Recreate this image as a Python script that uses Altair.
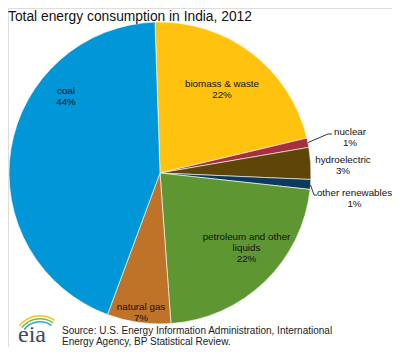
import math
import altair as alt
import pandas as pd

# ---- data -------------------------------------------------------------
categories = ["biomass & waste", "nuclear", "hydroelectric", "other renewables",
              "petroleum and other liquids", "natural gas", "coal"]
shares = [21.8, 1.0, 3.4, 1.05, 22.1, 6.8, 43.8]
label_lines = [["biomass & waste"], ["nuclear"], ["hydroelectric"], ["other renewables"],
               ["petroleum and other", "liquids"], ["natural gas"], ["coal"]]
colors = ["#FFC20E", "#A6303F", "#5E4608", "#0B3A5C", "#5E9732", "#BE7328", "#0096D7"]

title_text = "Total energy consumption in  India, 2012"
source_lines = ["Source: U.S. Energy Information  Administration, International",
                "Energy Agency, BP Statistical Review."]
logo_text = "eia"

# ---- tables -----------------------------------------------------------
df = pd.DataFrame({"category": categories, "share": shares, "idx": list(range(len(categories)))})
labels_df = pd.DataFrame({
    "category": categories,
    "label": ["\n".join(lines + [f"{round(s)}%"]) for lines, s in zip(label_lines, shares)],
})
one = pd.DataFrame({"_": [0]})

W, H = 384, 339
CX, CY, R = 152, 165, 151
start = math.radians(-1.9)

pie = alt.Chart(df).mark_arc(radius=R, x=CX, y=CY, stroke="#ffffff", strokeWidth=0.6).encode(
    theta=alt.Theta("share:Q", stack=True, scale=alt.Scale(range=[start, start + 2 * math.pi])),
    color=alt.Color("category:N", scale=alt.Scale(domain=categories, range=colors), legend=None),
    order=alt.Order("idx:Q", sort="ascending"),
)

label_pos = {
    "biomass & waste": (214, 79),
    "nuclear": (342, 127),
    "hydroelectric": (335, 155),
    "other renewables": (346.5, 188),
    "petroleum and other liquids": (238.5, 232),
    "natural gas": (133, 302),
    "coal": (58, 86),
}
label_layers = []
for cat in categories:
    lx, ly = label_pos[cat]
    label_layers.append(
        alt.Chart(labels_df).transform_filter(alt.datum.category == cat).mark_text(
            font="Liberation Sans", fontSize=9.8, color="#111111", align="center",
            baseline="alphabetic", lineBreak="\n", lineHeight=11,
        ).encode(text="label:N", x=alt.value(lx), y=alt.value(ly))
    )

def rule(x1, y1, x2, y2):
    return alt.Chart(one).mark_rule(color="#333333", strokeWidth=1).encode(
        x=alt.value(x1), y=alt.value(y1), x2=alt.value(x2), y2=alt.value(y2))

leaders = [
    rule(300, 134.5, 320, 126), rule(320, 126, 324, 126),
    rule(302.5, 177, 306, 187), rule(306, 187, 309, 187),
]

title = alt.Chart(one).mark_text(
    font="Liberation Sans", fontSize=13.8, color="#111111", align="left", baseline="top"
).encode(text=alt.value(title_text), x=alt.value(0), y=alt.value(2))

source = alt.Chart(one).mark_text(
    font="Liberation Sans", fontSize=10, color="#222222", align="left", baseline="alphabetic",
    lineBreak="\n", lineHeight=11,
).encode(text=alt.value("\n".join(source_lines)), x=alt.value(54), y=alt.value(326))

logo = alt.Chart(one).mark_text(
    font="Liberation Serif", fontSize=24, color="#3B4A5A", align="left", baseline="bottom"
).encode(text=alt.value(logo_text), x=alt.value(10), y=alt.value(339))

TWO_PI = 2 * math.pi

def swoosh(r1, r2, color):
    return alt.Chart(one).mark_arc(
        x=32, y=334, radius=r2, radius2=r1, theta=TWO_PI - 0.9, theta2=TWO_PI + 0.6
    ).encode(color=alt.value(color))

swooshes = [swoosh(25.5, 27, "#F2C31A"), swoosh(22.5, 24, "#7DB942"), swoosh(19.5, 21, "#2BA3D9")]

chart = alt.layer(pie, *leaders, *label_layers, title, source, logo, *swooshes).properties(
    width=W, height=H, autosize=alt.AutoSizeParams(type="none"), padding=0,
).configure_view(stroke=None).configure(background="#ffffff")

chart.save("out.html", embed_options={"renderer": "svg", "actions": False})
